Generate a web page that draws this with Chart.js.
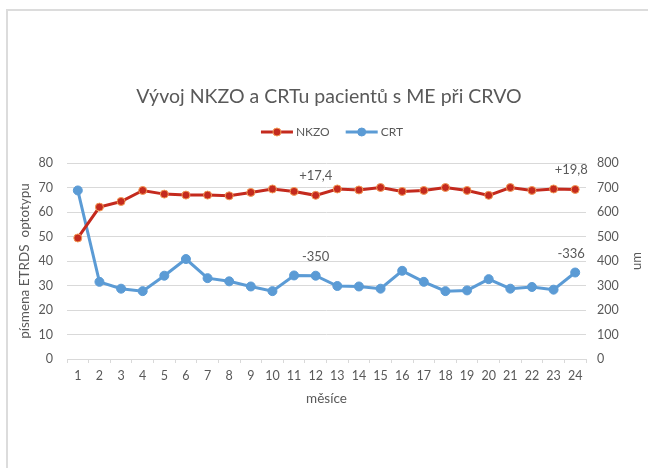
<!DOCTYPE html>
<html><head><meta charset="utf-8">
<script src="https://cdn.jsdelivr.net/npm/chart.js@4/dist/chart.umd.min.js"></script>
<style>
html,body{margin:0;padding:0;background:#fff;}
#wrap{position:relative;width:648px;height:468px;overflow:hidden;}
#frame{position:absolute;left:6px;top:9px;width:700px;height:500px;border-left:2px solid #dcdcdc;border-top:2px solid #dcdcdc;}
canvas{position:absolute;left:0;top:0;}
</style></head><body>
<div id="wrap"><div id="frame"></div><canvas id="c" width="648" height="468"></canvas></div>
<script>
const chartTitle = 'Vývoj NKZO a CRTu pacientů s ME při CRVO';
const xTitle = 'měsíce';
const yLeftTitle = 'písmena ETRDS  optotypu';
const yRightTitle = 'um';
const months = ['1','2','3','4','5','6','7','8','9','10','11','12','13','14','15','16','17','18','19','20','21','22','23','24'];
const nkzo = [49.4,62.0,64.3,68.8,67.3,66.9,66.9,66.6,68.0,69.4,68.4,66.8,69.4,69.0,70.0,68.4,68.8,70.0,68.8,66.8,70.0,68.8,69.4,69.2];
const crt = [688,315,287,277,340,408,330,317,296,277,341,340,298,296,287,360,315,277,280,326,287,294,283,353];
const noteIdx = [11, 23];
const nkzoNotes = ['+17,4', '+19,8'];
const crtNotes = ['-350', '-336'];

const FONT = 'Lato, "Open Sans", sans-serif';
const TXT = '#595959';
const RED = '#c42a1e', RED_EDGE = '#f39a55', BLUE = '#5b9bd5';

const extras = {
  id: 'extras',
  afterDatasetsDraw(chart) {
    const ctx = chart.ctx;
    const xs = chart.scales.x, yl = chart.scales.y, yr = chart.scales.y1;
    ctx.save();
    ctx.fillStyle = TXT;
    ctx.textAlign = 'center';
    ctx.textBaseline = 'middle';
    ctx.font = '13px ' + FONT;
    noteIdx.forEach((i, k) => {
      const px = xs.getPixelForValue(i) - (i === months.length - 1 ? 4 : 0);
      ctx.fillText(nkzoNotes[k], px, yl.getPixelForValue(nkzo[i]) - 20);
      ctx.fillText(crtNotes[k], px, yr.getPixelForValue(crt[i]) - 19);
    });
    // title
    ctx.font = '19.5px ' + FONT;
    ctx.fillText(chartTitle, 329, 97);
    // legend
    ctx.font = '12px ' + FONT;
    const items = chart.data.datasets.map(d => ({label: d.label, color: d.borderColor, fill: d.pointBackgroundColor, edge: d.pointBorderColor}));
    const lineW = 32, gap = 3, sep = 16;
    let total = 0;
    items.forEach((it, k) => { it.w = lineW + gap + ctx.measureText(it.label).width; total += it.w + (k ? sep : 0); });
    let x0 = 332 - total / 2;
    const ly = 132;
    items.forEach(it => {
      ctx.strokeStyle = it.color; ctx.lineWidth = 3;
      ctx.beginPath(); ctx.moveTo(x0, ly); ctx.lineTo(x0 + lineW, ly); ctx.stroke();
      ctx.beginPath(); ctx.arc(x0 + lineW / 2, ly, 4, 0, Math.PI * 2);
      ctx.fillStyle = it.fill; ctx.fill();
      ctx.lineWidth = 1; ctx.strokeStyle = it.edge; ctx.stroke();
      ctx.fillStyle = TXT; ctx.textAlign = 'left';
      ctx.fillText(it.label, x0 + lineW + gap, ly);
      x0 += it.w + sep;
    });
    // right axis title
    ctx.font = '13px ' + FONT;
    ctx.translate(637, (yr.top + yr.bottom) / 2);
    ctx.rotate(-Math.PI / 2);
    ctx.textAlign = 'center';
    ctx.fillText(yRightTitle, 0, 0);
    ctx.restore();
  }
};

new Chart(document.getElementById('c'), {
  type: 'line',
  data: {
    labels: months,
    datasets: [
      {label: 'NKZO', data: nkzo, yAxisID: 'y', borderColor: RED, borderWidth: 3,
       pointBackgroundColor: RED, pointBorderColor: RED_EDGE, pointBorderWidth: 1, pointRadius: 4, tension: 0},
      {label: 'CRT', data: crt, yAxisID: 'y1', borderColor: BLUE, borderWidth: 3,
       pointBackgroundColor: BLUE, pointBorderColor: BLUE, pointBorderWidth: 1, pointRadius: 4.5, tension: 0}
    ]
  },
  options: {
    responsive: false, animation: false, devicePixelRatio: 1,
    layout: {padding: {top: 163, left: 0, right: 0, bottom: 57}},
    plugins: {legend: {display: false}, title: {display: false}, tooltip: {enabled: false}},
    scales: {
      x: {
        offset: true,
        grid: {offset: true, drawOnChartArea: false, drawTicks: true, tickLength: 4, color: '#d9d9d9'},
        border: {color: '#d9d9d9'},
        ticks: {color: TXT, font: {family: FONT, size: 12.5}, padding: 5, maxRotation: 0, autoSkip: false},
        title: {display: true, text: xTitle, color: TXT, font: {family: FONT, size: 13.5}, padding: {top: 4, bottom: 4}},
        afterFit(s) { s.height = 52; }
      },
      y: {
        position: 'left', min: 0, max: 80,
        ticks: {stepSize: 10, color: TXT, font: {family: FONT, size: 12.5}, padding: 14},
        grid: {color: '#d9d9d9', drawTicks: false},
        border: {display: false},
        title: {display: true, text: yLeftTitle, color: TXT, font: {family: FONT, size: 13.5}, padding: {top: 17, bottom: 0}},
        afterFit(s) { s.width = 67; }
      },
      y1: {
        position: 'right', min: 0, max: 800,
        ticks: {stepSize: 100, color: TXT, font: {family: FONT, size: 12.5}, padding: 11},
        grid: {drawOnChartArea: false, drawTicks: false},
        border: {display: false},
        afterFit(s) { s.width = 62; }
      }
    }
  },
  plugins: [extras]
});
</script>
</body></html>
